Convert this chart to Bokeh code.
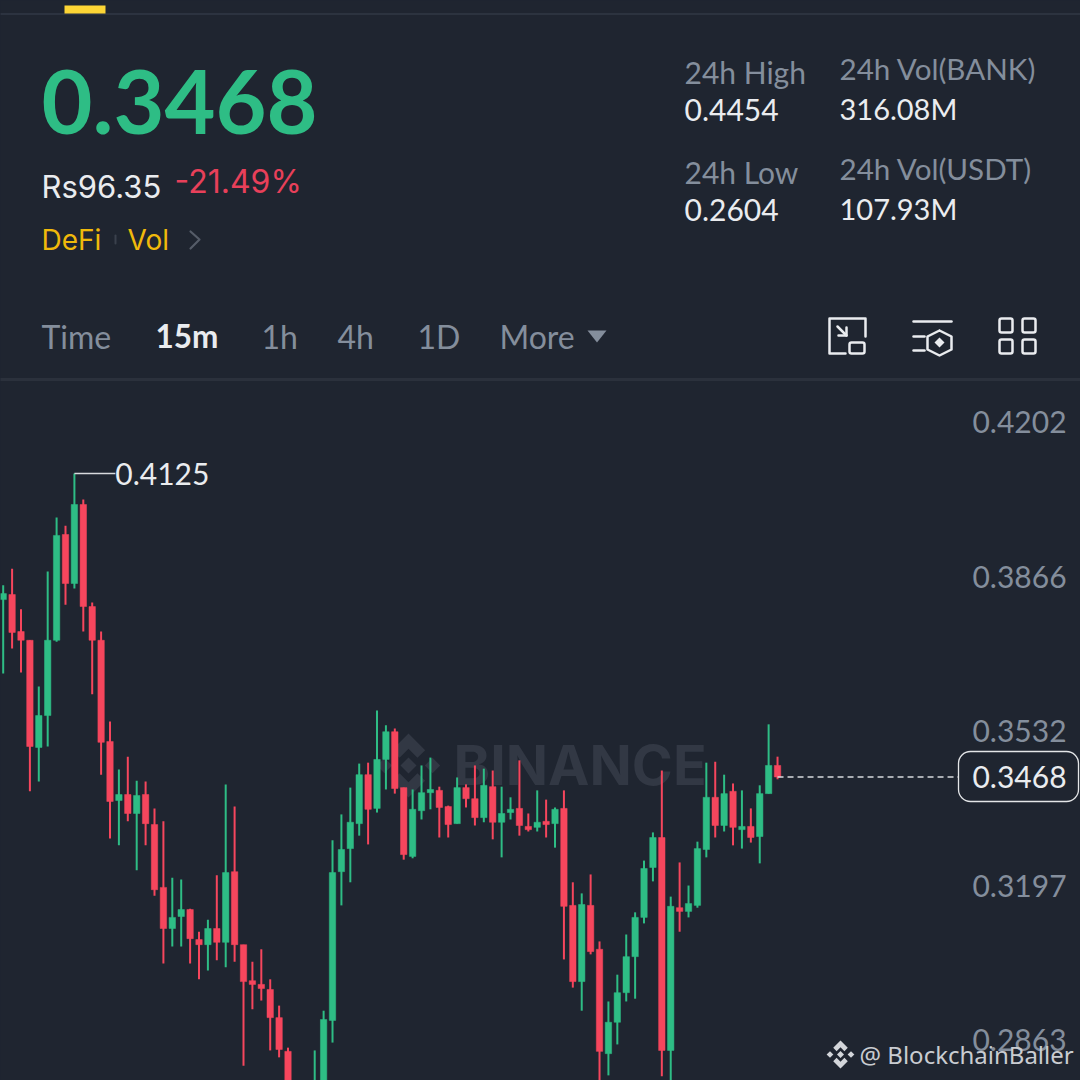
from bokeh.plotting import figure
from bokeh.models import Range1d, ColumnDataSource
from bokeh.core.properties import value
from bokeh.embed import file_html
from bokeh.resources import INLINE

# ---- data ----
price_open = [.3852,.3863,.3783,.3764,.3532,.3601,.3764,.3993,.3887,.4058,.3837,.3764,.3545,.3417,.3430,.3389,.3430,.3365,.3229,.3140,
              .3166,.3181,.3116,.3105,.3140,.3110,.3263,.3105,.3027,.3019,.3008,.2947,.2874,.2757,.2700,.2735,.2790,.2941,.3263,.3313,
              .3367,.3473,.3400,.3506,.3566,.3445,.3296,.3395,.3434,.3439,.3404,.3367,.3445,.3421,.3380,.3447,.3370,.3391,.3400,.3361,
              .3359,.3372,.3367,.3400,.3190,.3025,.3190,.3095,.2869,.2937,.3001,.3079,.3164,.3272,.3337,.2876,.3185,.3177,.3190,.3311,
              .3424,.3363,.3437,.3354,.3361,.3339,.3432,.3493]
price_high = [.3883,.3919,.3831,.3764,.3664,.3913,.4030,.4012,.4125,.4069,.3846,.3783,.3588,.3484,.3512,.3460,.3458,.3400,.3372,.3250,
              .3246,.3183,.3133,.3159,.3255,.3452,.3404,.3105,.3068,.3095,.3030,.2973,.2882,.2770,.2745,.2876,.2962,.3331,.3387,.3445,
              .3497,.3499,.3612,.3580,.3573,.3445,.3441,.3493,.3510,.3447,.3406,.3467,.3452,.3493,.3486,.3482,.3447,.3424,.3504,.3389,
              .3439,.3419,.3402,.3439,.3240,.3216,.3257,.3112,.2982,.3040,.3127,.3175,.3287,.3348,.3482,.3209,.3283,.3233,.3328,.3499,
              .3501,.3473,.3454,.3439,.3400,.3450,.3582,.3512]
price_low = [.3692,.3746,.3694,.3437,.3458,.3534,.3761,.3841,.3876,.3783,.3647,.3473,.3335,.3320,.3372,.3266,.3320,.3211,.3064,.3101,
             .3101,.3064,.3030,.3049,.3071,.3056,.3068,.2843,.2965,.2984,.2876,.2861,.2730,.2660,.2604,.2700,.2770,.2893,.3190,.3240,
             .3341,.3322,.3391,.3441,.3432,.3289,.3292,.3376,.3398,.3337,.3337,.3367,.3402,.3363,.3370,.3333,.3294,.3376,.3341,.3350,
             .3350,.3337,.3315,.3073,.3012,.2962,.3084,.2790,.2822,.2889,.2982,.2988,.3151,.3242,.2820,.2790,.3133,.3164,.3185,.3294,
             .3337,.3350,.3320,.3313,.3326,.3281,.3432,.3463]
price_close = [.3865,.3781,.3764,.3534,.3601,.3764,.3991,.3887,.4058,.3837,.3764,.3543,.3415,.3430,.3389,.3428,.3367,.3224,.3140,.3164,
               .3181,.3118,.3105,.3140,.3110,.3261,.3105,.3025,.3019,.3010,.2947,.2878,.2757,.2700,.2735,.2790,.2943,.3261,.3311,.3370,
               .3473,.3398,.3506,.3566,.3443,.3300,.3398,.3434,.3441,.3402,.3365,.3445,.3421,.3380,.3450,.3370,.3389,.3398,.3363,.3354,
               .3370,.3365,.3398,.3188,.3025,.3192,.3090,.2874,.2937,.3001,.3079,.3164,.3270,.3337,.2876,.3188,.3177,.3194,.3313,.3424,
               .3363,.3432,.3359,.3361,.3337,.3432,.3493,.3468]
tick_values = [.4202,.3866,.3532,.3197,.2863]
tick_labels = ["0.4202","0.3866","0.3532","0.3197","0.2863"]
last_price = .3468
peak_price = .4125

BG = "#1f2530"; GREEN = "#2EBD85"; RED = "#F6465D"; WHITE = "#EAECEF"; GRAY = "#848E9C"; YELLOW = "#F0B90B"
FONT = "Lato"; FONT2 = "Inter"

p = figure(width=1080, height=1080, output_backend="svg", toolbar_location=None,
           x_axis_location=None, y_axis_location=None, min_border=0,
           x_range=Range1d(-0.303, 121.04), y_range=Range1d(0.28109, 0.51491),
           background_fill_color=BG, border_fill_color=BG, outline_line_color=None)
p.grid.visible = False
# page-pixel overlay ranges for the app's header chrome
p.extra_x_ranges["px"] = Range1d(0, 1080)
p.extra_y_ranges["px"] = Range1d(1080, 0)
PX = dict(x_range_name="px", y_range_name="px")

def txt(x, y, s, size, color, font=FONT, style="normal", align="left"):
    # y is the reference baseline; the centre of the digits lies 0.36 em above it
    p.text(x=[x], y=[y - 0.36 * size], text=[s], text_font=value(font), text_font_size=f"{size}px", text_color=color,
           text_font_style=style, text_align=align, text_baseline="middle", **PX)

def poly(xs, ys, color, w=2.5):
    p.line(xs, ys, line_color=color, line_width=w, line_join="round", line_cap="round", **PX)

def rrect(l, t, r, b, color, w=2.5, rad=3, fill=None):
    p.quad(left=[l], right=[r], top=[t], bottom=[b], line_color=color, line_width=w, fill_color=fill,
           fill_alpha=1 if fill else 0, border_radius=rad, **PX)

def logo(cx, cy, R, color):
    d = lambda x, y, h: ([cx+x, cx+x+h, cx+x, cx+x-h], [cy+y-h, cy+y, cy+y+h, cy+y])
    parts = [d(0, 0, .25*R), d(-.75*R, 0, .24*R), d(.75*R, 0, .24*R)]
    for s in (-1, 1):
        parts.append(([cx, cx+.52*R, cx+.28*R, cx, cx-.28*R, cx-.52*R],
                      [cy+s*R, cy+s*.48*R, cy+s*.24*R, cy+s*.52*R, cy+s*.24*R, cy+s*.48*R]))
    p.patches([a for a, _ in parts], [b for _, b in parts], fill_color=color, line_color=None, **PX)

# watermark behind the candles
logo(408, 765, 32, "#323844")
txt(453, 784, "BINANCE", 55.5, "#323844", font=FONT2, style="bold")

# candles
idx = list(range(len(price_open)))
colors = [GREEN if c >= o else RED for o, c in zip(price_open, price_close)]
src = ColumnDataSource(dict(i=idx, o=price_open, h=price_high, l=price_low, c=price_close, col=colors))
p.segment(x0="i", x1="i", y0="l", y1="h", line_color="col", line_width=2, source=src)
p.vbar(x="i", width=0.72, top="o", bottom="c", fill_color="col", line_color="col", line_width=0.5, source=src)

# y tick labels, drawn just above their price level
p.text(x=[119.47]*len(tick_values), y=tick_values, text=tick_labels, y_offset=-16, text_font=value(FONT),
       text_font_size="30px", text_color=GRAY, text_align="right", text_baseline="middle")

# last price
p.segment(x0=[idx[-1]], x1=[107.34], y0=[last_price], y1=[last_price], line_color="#d8dadd", line_width=1.4, line_dash="6 4")
rrect(958, 751, 1078, 801, "#e4e6e8", w=1.3, rad=12, fill=BG)
p.text(x=[119.47], y=[last_price], text=["0.3468"], text_font=value(FONT), text_font_size="30px",
       text_color=WHITE, text_align="right", text_baseline="middle")

# peak label
p.line([8, 12.6], [peak_price, peak_price], line_color="#d8dadd", line_width=1.5)
p.text(x=[12.6], y=[peak_price], text=["0.4125"], text_font=value(FONT), text_font_size="30px",
       text_color=WHITE, text_align="left", text_baseline="middle")

# header chrome
poly([0, 1080], [13.5, 13.5], "#323945", 1.5)
p.quad(left=[64], right=[105], top=[5], bottom=[13], fill_color="#FCD535", line_color=None, **PX)
txt(41, 133, "0.3468", 88, GREEN, style="bold")
txt(41, 197, "Rs96.35", 31, WHITE, font=FONT2)
txt(174, 193, "-21.49%", 32, "#E8405A", font=FONT2)
txt(41, 250, "DeFi", 28, YELLOW, font=FONT2)
poly([115, 115], [235, 243], "#3a414c", 2)
txt(127, 250, "Vol", 28, YELLOW, font=FONT2)
poly([190, 199, 190], [231, 239, 248], "#555c68", 2.2)

txt(684, 82, "24h High", 30, GRAY)
txt(684, 120, "0.4454", 30, WHITE)
txt(684, 182, "24h Low", 30, GRAY)
txt(684, 220, "0.2604", 30, WHITE)
txt(839, 79, "24h Vol(BANK)", 29.6, GRAY)
txt(839, 118, "316.08M", 29, WHITE)
txt(839, 179, "24h Vol(USDT)", 29.6, GRAY)
txt(839, 218, "107.93M", 29, WHITE)

txt(41, 348, "Time", 32, GRAY)
txt(155, 347, "15m", 31.5, WHITE, style="bold")
txt(261, 348, "1h", 32, GRAY)
txt(337, 348, "4h", 32, GRAY)
txt(417, 348, "1D", 32, GRAY)
txt(499, 348, "More", 32, GRAY)
p.patch([587, 606, 596.5], [330, 330, 342], fill_color=GRAY, line_color=None, **PX)
poly([0, 1080], [379, 379], "#2b313c", 3)

# icons
poly([845, 829, 829, 865, 865], [353, 353, 318, 318, 336], WHITE)
rrect(849, 342, 864, 353, WHITE, rad=2)
poly([837, 846], [326, 335], WHITE)
poly([846, 846, 838], [327, 335, 335], WHITE)
poly([913, 951], [321, 321], WHITE)
poly([913, 924], [336, 336], WHITE)
poly([913, 924], [350, 350], WHITE)
poly([939, 951, 951, 939, 927, 927, 939], [330, 336, 349, 355, 349, 336, 330], WHITE)
p.patch([939, 944, 939, 934], [337, 342, 347, 342], fill_color=WHITE, line_color=None, **PX)
for l, t in ((999, 318), (1022, 318), (999, 339), (1022, 339)):
    rrect(l, t, l + 13, t + 14, WHITE, rad=2)

# author watermark on top
logo(840, 1054, 14, "#d3d6da")
txt(859, 1063, "@ BlockchainBaller", 24, "#c9ccd1", font="Noto Sans")

html = file_html(p, INLINE).replace("<head>", f"<head><style>html,body{{background:{BG}}}</style>", 1)
open("out.html", "w").write(html)
